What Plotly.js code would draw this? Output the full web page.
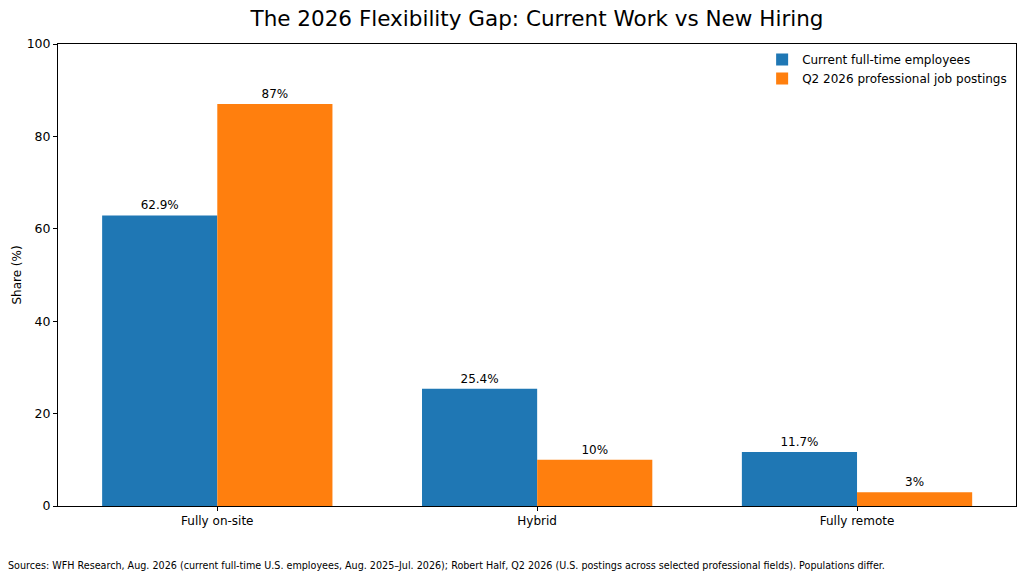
<!DOCTYPE html>
<html>
<head>
<meta charset="utf-8">
<script src="https://cdn.plot.ly/plotly-3.0.1.min.js"></script>
<style>
  html, body { margin: 0; padding: 0; background: #fff; }
  #chart { width: 1024px; height: 579px; }
</style>
</head>
<body>
<div id="chart"></div>
<script>
var categories = ['Fully on-site', 'Hybrid', 'Fully remote'];
var employees = [62.9, 25.4, 11.7];
var postings = [87, 10, 3];
var employeeLabels = ['62.9%', '25.4%', '11.7%'];
var postingLabels = ['87%', '10%', '3%'];
var yTicks = [0, 20, 40, 60, 80, 100];

var font = 'DejaVu Sans, sans-serif';

var trace1 = {
    x: categories,
    y: employees,
    name: 'Current full-time employees',
    type: 'bar',
    text: employeeLabels,
    textposition: 'outside',
    cliponaxis: false,
    textfont: { family: font, size: 12, color: '#000' },
    marker: { color: '#1f77b4' },
    hoverinfo: 'x+y'
};

var trace2 = {
    x: categories,
    y: postings,
    name: 'Q2 2026 professional job postings',
    type: 'bar',
    text: postingLabels,
    textposition: 'outside',
    cliponaxis: false,
    textfont: { family: font, size: 12, color: '#000' },
    marker: { color: '#ff7f0e' },
    hoverinfo: 'x+y'
};

var data = [trace1, trace2];

var layout = {
    width: 1024,
    height: 579,
    font: { family: font, size: 13, color: '#000' },
    paper_bgcolor: '#fff',
    plot_bgcolor: '#fff',
    barmode: 'group',
    bargap: 0.28,
    bargroupgap: 0,
    margin: { l: 58, r: 8, t: 44, b: 73 },
    title: {
        text: 'The 2026 Flexibility Gap: Current Work vs New Hiring',
        font: { family: font, size: 21.5, color: '#000' },
        xref: 'paper',
        x: 0.5,
        xanchor: 'center',
        y: 0.968,
        yanchor: 'middle'
    },
    xaxis: {
        range: [-0.498, 2.497],
        showline: true,
        linecolor: '#000',
        linewidth: 1,
        mirror: true,
        ticks: 'outside',
        ticklen: 4,
        tickcolor: '#000',
        tickfont: { family: font, size: 12 },
        showgrid: false,
        zeroline: false
    },
    yaxis: {
        range: [0, 100],
        tickvals: yTicks,
        ticktext: yTicks.map(String),
        showline: true,
        linecolor: '#000',
        linewidth: 1,
        mirror: true,
        ticks: 'outside',
        ticklen: 4,
        tickcolor: '#000',
        tickfont: { family: font, size: 12.5 },
        showgrid: false,
        zeroline: false,
        title: { text: 'Share (%)', font: { family: font, size: 12 }, standoff: 2 }
    },
    legend: {
        x: 0.735,
        y: 0.998,
        xanchor: 'left',
        yanchor: 'top',
        bgcolor: 'rgba(255,255,255,0)',
        borderwidth: 0,
        font: { family: font, size: 12 },
        tracegroupgap: 0,
        itemwidth: 30
    },
    annotations: [{
        text: 'Sources: WFH Research, Aug. 2026 (current full-time U.S. employees, Aug. 2025\u2013Jul. 2026); Robert Half, Q2 2026 (U.S. postings across selected professional fields). Populations differ.',
        xref: 'paper',
        yref: 'paper',
        x: -0.054,
        y: -0.128,
        xanchor: 'left',
        yanchor: 'middle',
        showarrow: false,
        font: { family: font, size: 9.6, color: '#000' }
    }],
    showlegend: true
};

var config = { displayModeBar: false, staticPlot: true };

Plotly.newPlot('chart', data, layout, config);
</script>
</body>
</html>
